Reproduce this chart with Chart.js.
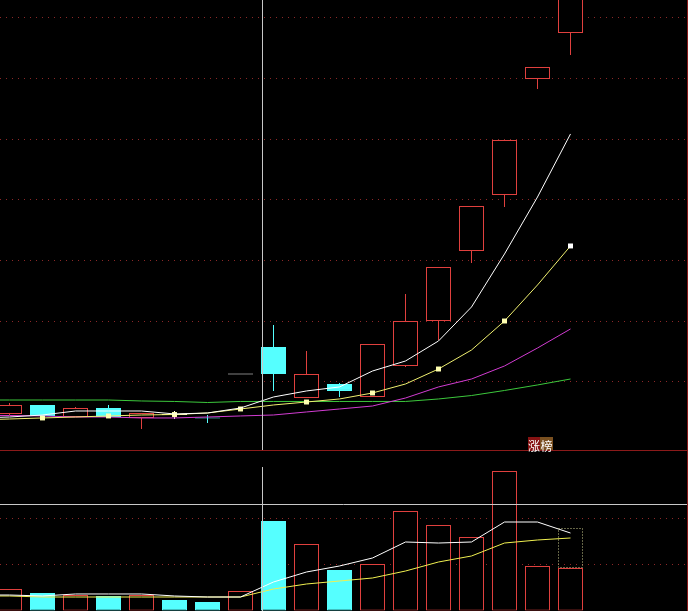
<!DOCTYPE html>
<html>
<head>
<meta charset="utf-8">
<script src="https://cdn.jsdelivr.net/npm/chart.js@4/dist/chart.umd.min.js"></script>
<style>
  html, body { margin: 0; padding: 0; background: #000; overflow: hidden; }
  #wrap { position: relative; width: 688px; height: 611px; }
  #kline { position: absolute; left: 0; top: 0; }
  #sep { position: absolute; left: 0; top: 450px; width: 688px; height: 1px; background: #8b1a1a; }
  #vol { position: absolute; left: 0; top: 451px; }
  .tag { position: absolute; top: 437px; height: 13px; line-height: 13px; font: 12px "Noto Sans CJK SC"; color: #fff; text-align: center; }
</style>
</head>
<body>
<div id="wrap">
  <canvas id="kline" width="688" height="450"></canvas>
  <div id="sep"></div>
  <canvas id="vol" width="688" height="160"></canvas>
  <span class="tag" style="left:528px;width:12px;background:#861212">涨</span>
  <span class="tag" style="left:540px;width:13px;background:#7a5020">榜</span>
</div>
<script>
// 日K数据
const dayIdx = [0, 1, 2, 3, 4, 5, 6, 7, 8, 9, 10, 11, 12, 13, 14, 15, 16, 17];
const openP  = [9.473, 9.621, 9.423, 9.571, 9.407, 9.465, 9.415, 10.132, 10.577, 9.736, 9.967, 9.753, 10.264, 11.005, 12.159, 13.082, 14.994, 15.753];
const closeP = [9.621, 9.440, 9.571, 9.423, 9.489, 9.465, 9.400, 10.132, 10.132, 10.132, 9.852, 10.626, 11.005, 11.896, 12.901, 13.989, 15.192, 16.544];
const highP  = [9.654, 9.621, 9.588, 9.621, 9.489, 9.522, 9.456, 10.132, 10.940, 10.511, 9.984, 10.626, 11.450, 11.896, 12.901, 13.989, 15.192, 16.544];
const lowP   = [9.456, 9.440, 9.423, 9.423, 9.225, 9.390, 9.324, 10.132, 9.852, 9.736, 9.753, 9.753, 10.247, 10.692, 11.961, 12.884, 14.829, 15.390];

// 均线 (从前一天开始)
const maDays = [-1, 0, 1, 2, 3, 4, 5, 6, 7, 8, 9, 10, 11, 12, 13, 14, 15, 16, 17];
const ma5P  = [9.406, 9.423, 9.456, 9.522, 9.522, 9.522, 9.473, 9.489, 9.571, 9.753, 9.852, 9.918, 10.181, 10.346, 10.676, 11.236, 12.110, 13.049, 14.088];
const ma10P = [9.374, 9.390, 9.407, 9.423, 9.440, 9.456, 9.464, 9.489, 9.555, 9.621, 9.670, 9.720, 9.819, 9.967, 10.214, 10.527, 11.005, 11.599, 12.242];
const ma20P = [9.448, 9.448, 9.440, 9.423, 9.423, 9.407, 9.407, 9.423, 9.440, 9.456, 9.506, 9.555, 9.604, 9.736, 9.918, 10.049, 10.264, 10.560, 10.874];
const ma60P = [9.703, 9.703, 9.703, 9.703, 9.703, 9.687, 9.679, 9.662, 9.679, 9.679, 9.679, 9.679, 9.679, 9.679, 9.720, 9.777, 9.860, 9.951, 10.049];

// 成交量
const vol     = [0.473, 0.387, 0.344, 0.323, 0.344, 0.237, 0.194, 0.430, 1.935, 1.441, 0.882, 1.011, 2.151, 1.849, 1.591, 3.011, 0.968, 0.925];
const volMa5  = [0.344, 0.344, 0.323, 0.366, 0.366, 0.366, 0.323, 0.301, 0.301, 0.624, 0.839, 0.968, 1.140, 1.484, 1.462, 1.484, 1.914, 1.914, 1.677];
const volMa10 = [0.323, 0.323, 0.301, 0.301, 0.301, 0.301, 0.301, 0.301, 0.301, 0.473, 0.581, 0.645, 0.710, 0.860, 1.054, 1.183, 1.462, 1.527, 1.570];
const projVol = 1.785;   // 预估量
const crossDay = 7.667;  // 十字光标
const crossVol = 2.301;

const RED = '#e0403e', CYAN = '#55ffff', WHITE = '#ffffff';
const GRID = '#8c2828', FRAME = '#8b1a1a';

function candleColor(i) {
    if (closeP[i] > openP[i]) return RED;
    if (closeP[i] < openP[i]) return CYAN;
    return WHITE;
}
function volUp(i) {
    if (closeP[i] !== openP[i]) return closeP[i] > openP[i];
    return i > 0 && closeP[i] > closeP[i - 1];
}
function maLine(xs, ys, color, extra) {
    return Object.assign({
        type: 'line',
        data: xs.map((x, k) => ({ x: x, y: ys[k] })),
        borderColor: color,
        borderWidth: 1,
        pointRadius: 0,
        tension: 0,
        order: 0
    }, extra || {});
}
// 每根K线 33px, 首根中心在 9.5px
function xScale() {
    return { type: 'linear', display: false, offset: false, min: -9.5 / 33, max: (687 - 9.5) / 33 };
}
function gridAt(keep) {
    return c => (c.tick && keep(c.tick.value)) ? GRID : 'rgba(0,0,0,0)';
}
const isInt = v => Math.abs(v - Math.round(v)) < 1e-6;

// 主图 K线
new Chart(document.getElementById('kline'), {
    type: 'bar',
    data: {
        datasets: [
            maLine(maDays, ma5P, '#ffffff'),
            maLine(maDays, ma10P, '#f0f070', {
                pointStyle: 'rect',
                pointRadius: c => (c.raw && c.raw.x % 2 === 1) ? 3.5 : 0,
                pointBackgroundColor: c => (c.raw && c.raw.x === 17) ? '#ffffff' : '#ffffb0',
                pointBorderWidth: 0
            }),
            maLine(maDays, ma20P, '#d23cd2'),
            maLine(maDays, ma60P, '#3cc83c'),
            {
                data: dayIdx.map(i => ({
                    x: i,
                    y: openP[i] === closeP[i] ? [openP[i] - 0.008, openP[i] + 0.008] : [openP[i], closeP[i]]
                })),
                backgroundColor: dayIdx.map(i => candleColor(i) === RED ? '#000' : candleColor(i)),
                borderColor: dayIdx.map(candleColor),
                borderWidth: 1,
                borderSkipped: false,
                barThickness: 25,
                inflateAmount: 0,
                grouped: false,
                order: 1
            },
            {
                data: dayIdx.map(i => ({ x: i, y: [lowP[i], highP[i]] })),
                backgroundColor: dayIdx.map(candleColor),
                borderWidth: 0,
                barThickness: 1,
                inflateAmount: 0,
                grouped: false,
                order: 2
            }
        ]
    },
    options: {
        responsive: false,
        animation: false,
        events: [],
        layout: { padding: 0, autoPadding: false },
        plugins: { legend: { display: false }, tooltip: { enabled: false } },
        scales: {
            x: xScale(),
            y: {
                position: 'right',
                min: 8.879,
                max: 16.296,
                ticks: { display: false, stepSize: 0.5, includeBounds: false },
                grid: { color: gridAt(v => isInt(v) && v >= 10), tickColor: FRAME, tickLength: 1, drawTicks: true },
                border: { display: true, color: FRAME, dash: [1, 5] }
            }
        }
    },
    plugins: [{
        id: 'cross',
        afterDraw(chart) {
            const ctx = chart.ctx;
            const x = Math.floor(chart.scales.x.getPixelForValue(crossDay)) + 0.5;
            ctx.save();
            ctx.strokeStyle = '#c8c8c8';
            ctx.lineWidth = 1;
            ctx.beginPath();
            ctx.moveTo(x, 0);
            ctx.lineTo(x, chart.height);
            ctx.stroke();
            ctx.restore();
        }
    }]
});

// 副图 成交量
new Chart(document.getElementById('vol'), {
    type: 'bar',
    data: {
        datasets: [
            maLine(maDays, volMa5, '#ffffff'),
            maLine(maDays, volMa10, '#f0f050'),
            {
                data: dayIdx.map(i => ({ x: i, y: vol[i] })),
                backgroundColor: dayIdx.map(i => volUp(i) ? '#000' : CYAN),
                borderColor: dayIdx.map(i => volUp(i) ? RED : CYAN),
                borderWidth: 1,
                borderSkipped: false,
                barThickness: 25,
                inflateAmount: 0,
                grouped: false,
                order: 1
            }
        ]
    },
    options: {
        responsive: false,
        animation: false,
        events: [],
        layout: { padding: 0, autoPadding: false },
        plugins: { legend: { display: false }, tooltip: { enabled: false } },
        scales: {
            x: xScale(),
            y: {
                position: 'right',
                min: 0,
                max: 3.441,
                ticks: { display: false, stepSize: 1, includeBounds: false },
                grid: { color: gridAt(v => v === 1 || v === 2), tickColor: 'rgba(0,0,0,0)', tickLength: 1, drawTicks: true },
                border: { display: true, color: FRAME, dash: [1, 5] }
            }
        }
    },
    plugins: [{
        id: 'crossVol',
        afterDraw(chart) {
            const ctx = chart.ctx, xs = chart.scales.x, ys = chart.scales.y;
            ctx.save();
            // 预估量虚线框
            const xl = xs.getPixelForValue(17) - 12.5;
            const yTop = Math.floor(ys.getPixelForValue(projVol)) + 0.5;
            const yBot = Math.floor(ys.getPixelForValue(vol[17])) + 0.5;
            ctx.strokeStyle = '#c8c88c';
            ctx.lineWidth = 1;
            ctx.setLineDash([1, 2]);
            ctx.strokeRect(xl + 0.5, yTop, 24, yBot - yTop);
            ctx.setLineDash([]);
            // 十字光标
            ctx.strokeStyle = '#c8c8c8';
            const x = Math.floor(xs.getPixelForValue(crossDay)) + 0.5;
            ctx.beginPath();
            ctx.moveTo(x, 16);
            ctx.lineTo(x, chart.height);
            const y = Math.floor(ys.getPixelForValue(crossVol)) + 0.5;
            ctx.moveTo(0, y);
            ctx.lineTo(chart.chartArea.right, y);
            ctx.stroke();
            ctx.restore();
        }
    }]
});
</script>
</body>
</html>
